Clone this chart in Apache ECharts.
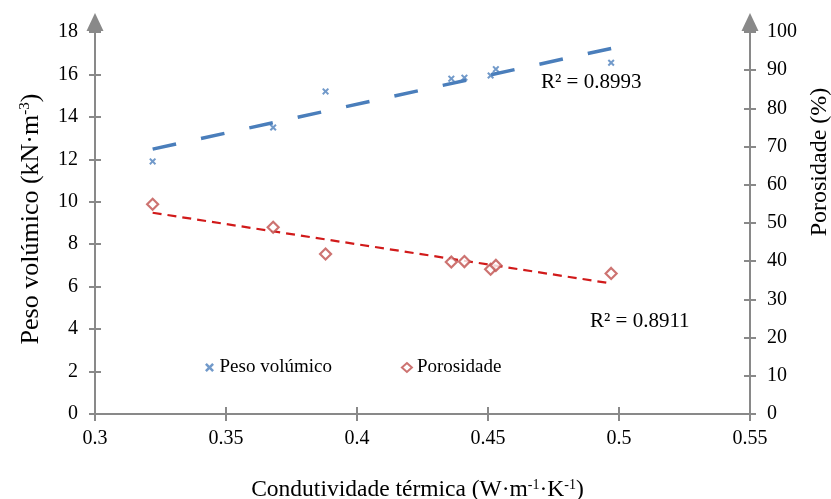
<!DOCTYPE html>
<html><head><meta charset="utf-8">
<script src="https://cdn.jsdelivr.net/npm/echarts@6/dist/echarts.min.js"></script>
<style>html,body{margin:0;padding:0;background:#fff}#c{width:831px;height:499px}</style>
</head><body><div id="c"></div>
<script>
const conductivity = [0.322, 0.368, 0.388, 0.436, 0.441, 0.451, 0.453, 0.497];
const pesoVolumico = [11.9, 13.5, 15.2, 15.8, 15.85, 15.95, 16.25, 16.55];
const porosidade = [54.9, 48.9, 41.9, 39.8, 39.9, 37.9, 38.9, 36.8];
const r2Labels = ['R² = 0.8993', 'R² = 0.8911'];
const seriesNames = ['Peso volúmico', 'Porosidade'];

function fit(xs, ys) {
  const n = xs.length;
  const mx = xs.reduce((a, b) => a + b, 0) / n;
  const my = ys.reduce((a, b) => a + b, 0) / n;
  let sxy = 0, sxx = 0;
  for (let i = 0; i < n; i++) { sxy += (xs[i] - mx) * (ys[i] - my); sxx += (xs[i] - mx) ** 2; }
  const b = sxy / sxx, a = my - b * mx;
  const x0 = Math.min(...xs), x1 = Math.max(...xs);
  return [[x0, a + b * x0], [x1, a + b * x1]];
}

const FONT = 'Liberation Serif';
const AX = '#898989';
const BLUE = '#4f81bd', RED = '#c0504d';
const crossPath = 'path://M2,0L5,3L8,0L10,2L7,5L10,8L8,10L5,7L2,10L0,8L3,5L0,2Z';

const chart = echarts.init(document.getElementById('c'));
const baseY = (min, max, interval, pos, inside, show) => ({
  type: 'value', min, max, interval, position: pos,
  axisLine: { show: show, lineStyle: { color: AX, width: 2 }, symbol: ['none', 'triangle'], symbolSize: [17, 18], symbolOffset: [0, 10] },
  axisTick: { show: true, inside: inside, length: 6, lineStyle: { color: AX, width: 2 } },
  axisLabel: { show: show, color: '#000', fontFamily: FONT, fontSize: 20, margin: 17 },
  splitLine: { show: false }
});
const supRich = (n, s) => ({
  n: { fontFamily: FONT, fontSize: n, color: '#000' },
  s: { fontFamily: FONT, fontSize: s, color: '#000', verticalAlign: 'top', padding: [0, 0, Math.round(n * 0.4), 0] }
});
const y0 = baseY(0, 18, 2, 'left', false, true);
Object.assign(y0, {
  name: '{n|Peso volúmico (kN·m}{s|-3}{n|)}', nameLocation: 'middle', nameGap: 51, nameRotate: 90,
  nameTextStyle: { rich: supRich(26, 15), padding: [0, 0, 0, 8] }
});
const y1 = baseY(0, 100, 10, 'right', false, true);
Object.assign(y1, {
  name: 'Porosidade (%)', nameLocation: 'middle', nameGap: 52, nameRotate: 90,
  nameTextStyle: { fontFamily: FONT, fontSize: 24, color: '#000', padding: [0, 0, 0, 122] }
});
const y2 = baseY(0, 18, 2, 'left', true, false);
const y3 = baseY(0, 100, 10, 'right', true, false);

const baseX = (inside, show) => ({
  type: 'value', min: 0.3, max: 0.55, interval: 0.05, position: 'bottom',
  axisLine: { show: show, onZero: false, lineStyle: { color: AX, width: 2 } },
  axisTick: { show: true, inside: inside, length: 7, lineStyle: { color: AX, width: 2 } },
  axisLabel: { show: show, color: '#000', fontFamily: FONT, fontSize: 20, margin: 15 },
  splitLine: { show: false }
});
const x0 = baseX(false, true);
Object.assign(x0, {
  name: '{n|Condutividade térmica (W·m}{s|-1}{n|·K}{s|-1}{n|)}', nameLocation: 'middle', nameGap: 64,
  nameTextStyle: { rich: supRich(23.5, 14), padding: [0, 10, 0, 0] }
});
const x1 = baseX(true, false);

chart.setOption({
  animation: false,
  grid: { left: 95, right: 81, top: 32, bottom: 85, containLabel: false, outerBoundsMode: 'none' },
  xAxis: [x0, x1],
  yAxis: [y0, y1, y2, y3],
  legend: {
    left: 200, top: 353, itemGap: 69, itemWidth: 10, itemHeight: 9,
    textStyle: { fontFamily: FONT, fontSize: 19, color: '#000' },
    data: [{ name: seriesNames[0], icon: crossPath }, { name: seriesNames[1] }]
  },
  series: [
    { name: seriesNames[0], type: 'scatter', yAxisIndex: 0, symbol: crossPath, symbolSize: 7,
      itemStyle: { color: BLUE }, data: conductivity.map((x, i) => [x, pesoVolumico[i]]), z: 3 },
    { name: seriesNames[1], type: 'scatter', yAxisIndex: 1, symbol: 'diamond', symbolSize: 11,
      itemStyle: { color: '#fff', borderColor: RED, borderWidth: 2.2 }, data: conductivity.map((x, i) => [x, porosidade[i]]), z: 3 },
    { name: 'trend1', type: 'line', yAxisIndex: 0, showSymbol: false, symbol: 'none', silent: true,
      lineStyle: { color: '#4a7ebb', width: 3.5, type: [24, 25.5] }, data: fit(conductivity, pesoVolumico), z: 2 },
    { name: 'trend2', type: 'line', yAxisIndex: 1, showSymbol: false, symbol: 'none', silent: true,
      lineStyle: { color: '#d11a1a', width: 2.2, type: [9, 6] }, data: fit(conductivity, porosidade), z: 2 }
  ],
  graphic: [
    { type: 'text', left: 541, top: 72, style: { text: r2Labels[0], font: '21px "Liberation Serif"', fill: '#000' } },
    { type: 'text', left: 590, top: 311, style: { text: r2Labels[1], font: '21px "Liberation Serif"', fill: '#000' } }
  ]
});
</script></body></html>
